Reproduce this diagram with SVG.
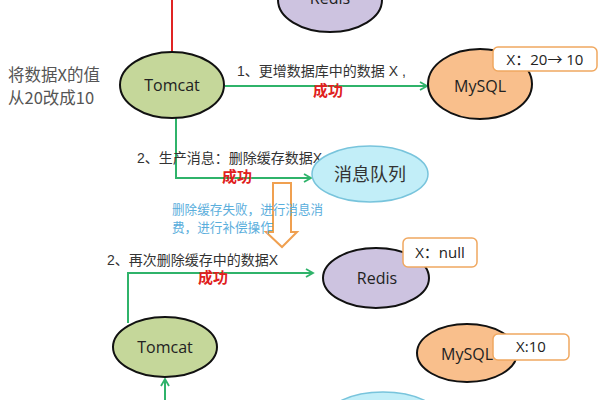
<svg xmlns="http://www.w3.org/2000/svg" width="600" height="400" viewBox="0 0 600 400">
<defs>
<style>
.node{stroke:#111;stroke-width:2}
.tomcat{fill:#c5d79a}
.redis{fill:#cdc3e0}
.mysql{fill:#f9bf8c}
.mq{fill:#c2eef8;stroke:#78c4dc;stroke-width:1.5}
.nt{font-family:"Open Sans","Liberation Sans","Noto Sans",sans-serif;font-size:16px;fill:#222;text-anchor:middle}
.lbl{font-family:"Liberation Sans","Noto Sans CJK SC",sans-serif;font-size:14px;fill:#333}
.ok{font-family:"Noto Sans CJK SC",sans-serif;font-size:15px;fill:#e02020;font-weight:bold}
.box{fill:#fff;stroke:#f0a860;stroke-width:1.5}
.bt{font-family:"Open Sans","Liberation Sans","Noto Sans CJK SC",sans-serif;font-size:15px;fill:#222;text-anchor:middle}
.arr{font-family:"Noto Sans CJK SC",sans-serif}
.g{fill:none;stroke:#2fb36a;stroke-width:2}
.note{font-family:"Noto Sans CJK SC",sans-serif;font-size:12.6px;fill:#5aaedc}
</style>
<marker id="ah" markerWidth="10" markerHeight="10" refX="8" refY="5" orient="auto" markerUnits="userSpaceOnUse">
<polyline points="1,1 8,5 1,9" fill="none" stroke="#2fb36a" stroke-width="1.8"/>
</marker>
</defs>
<rect width="600" height="400" fill="#fff"/>
<g id="connectors">
<line x1="172" y1="0" x2="172" y2="52" stroke="#e02424" stroke-width="2"/>
<line class="g" x1="225" y1="86" x2="427" y2="86" marker-end="url(#ah)"/>
<polyline class="g" points="176,118 176,178 311,178" marker-end="url(#ah)"/>
<polyline class="g" points="128,323 128,273 313,273" marker-end="url(#ah)"/>
<line class="g" x1="165" y1="400" x2="165" y2="379" marker-end="url(#ah)"/>
<polygon points="273,183 291,183 291,232 297,232 282,247 266,232 273,232" fill="#fff" stroke="#f0a050" stroke-width="2"/>
</g>
<g id="labels">
<text x="8" y="81" font-family="Noto Sans CJK SC,sans-serif" font-size="16.5" fill="#555">将数据X的值</text>
<text x="8" y="104" font-family="Noto Sans CJK SC,sans-serif" font-size="16.5" fill="#555">从20改成10</text>
<text class="lbl" x="237" y="76">1、更增数据库中的数据 X ,</text>
<text class="ok" x="313" y="96">成功</text>
<text class="lbl" x="137" y="163">2、生产消息：删除缓存数据X</text>
<text class="ok" x="222" y="182">成功</text>
<text class="note" x="172" y="214">删除缓存失败，进行消息消</text>
<text class="note" x="172" y="232">费，进行补偿操作</text>
<text class="lbl" x="107" y="265">2、再次删除缓存中的数据X</text>
<text class="ok" x="198" y="283">成功</text>
</g>
<g id="redis-top">
<ellipse class="node redis" cx="330" cy="0" rx="52" ry="32"/>
<text class="nt" x="330" y="4">Redis</text>
</g>
<g id="tomcat-top">
<ellipse class="node tomcat" cx="172" cy="85" rx="52" ry="33"/>
<text class="nt" x="172" y="91">Tomcat</text>
</g>
<g id="mysql-top">
<ellipse class="node mysql" cx="480" cy="84" rx="52" ry="35"/>
<text class="nt" x="480" y="92">MySQL</text>
<rect class="box" x="493" y="47" width="104" height="24" rx="5"/>
<text class="bt" x="545" y="65">X：20<tspan class="arr">→</tspan> 10</text>
</g>
<g id="mq">
<ellipse class="mq" cx="370" cy="174" rx="58" ry="28"/>
<text x="370" y="181" text-anchor="middle" font-family="Noto Sans CJK SC,sans-serif" font-size="18" fill="#333">消息队列</text>
</g>
<g id="redis">
<ellipse class="node redis" cx="376" cy="278" rx="53" ry="30"/>
<text class="nt" x="377" y="284">Redis</text>
<rect class="box" x="403" y="238" width="74" height="29" rx="5"/>
<text class="bt" x="440" y="258">X：null</text>
</g>
<g id="tomcat">
<ellipse class="node tomcat" cx="165" cy="347" rx="52" ry="30"/>
<text class="nt" x="165" y="353">Tomcat</text>
</g>
<g id="mysql">
<ellipse class="node mysql" cx="467" cy="353" rx="50" ry="29"/>
<text class="nt" x="467" y="360">MySQL</text>
<rect class="box" x="493" y="334" width="76" height="26" rx="5"/>
<text class="bt" x="531" y="352">X:10</text>
</g>
<g id="mq-bottom">
<ellipse class="mq" cx="383" cy="420" rx="58" ry="28"/>
</g>
</svg>
